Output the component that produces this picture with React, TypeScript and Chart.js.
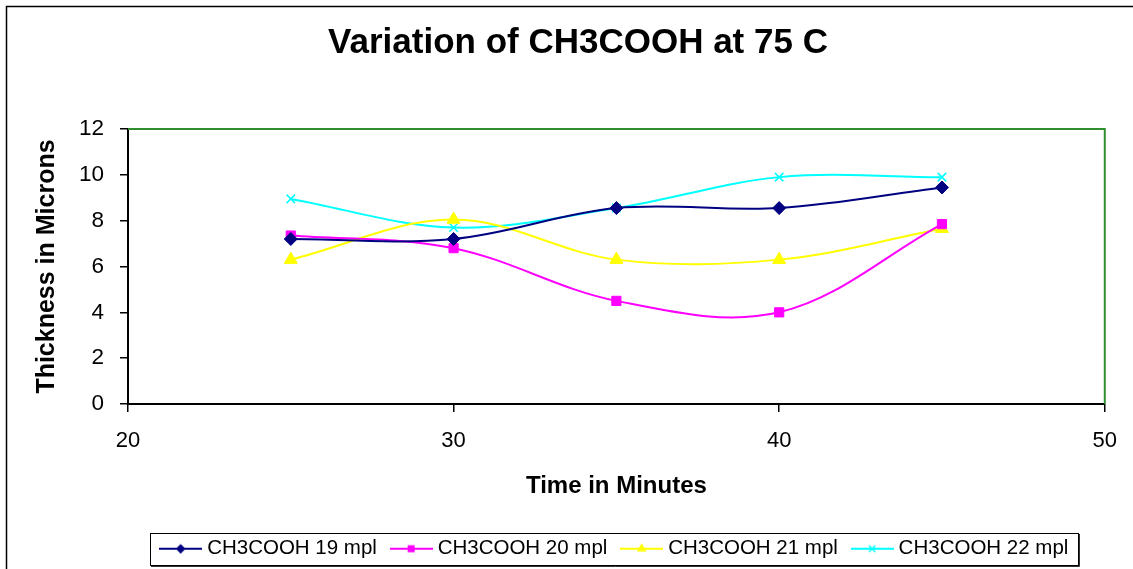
import React, { useEffect, useRef } from "react";
import { Chart, registerables } from "chart.js";

Chart.register(...registerables);

// ---------- data ----------
const timeMinutes = [25, 30, 35, 40, 45];
const series19 = [7.2, 7.2, 8.55, 8.55, 9.45];
const series20 = [7.35, 6.8, 4.5, 4.0, 7.85];
const series21 = [6.3, 8.05, 6.3, 6.3, 7.65];
const series22 = [8.95, 7.7, 8.55, 9.9, 9.9];

const seriesNames = ["CH3COOH 19 mpl", "CH3COOH 20 mpl", "CH3COOH 21 mpl", "CH3COOH 22 mpl"];
const seriesColors = ["#000080", "#FF00FF", "#FFFF00", "#00FFFF"];
const seriesMarkers = ["rectRot", "rect", "triangle", "crossRot"];
const markerRadii = [6.5, 6.5, 7.5, 6];

const xMin = 20;
const xMax = 50;
const xStep = 10;
const yMin = 0;
const yMax = 12;
const yStep = 2;

const chartTitle = "Variation of CH3COOH at 75 C";
const xAxisTitle = "Time in Minutes";
const yAxisTitle = "Thickness in Microns";

const FONT = "'Liberation Sans', Arial, Helvetica, sans-serif";

function makeLegendImage(color: string, style: string, r: number): HTMLCanvasElement {
  const c = document.createElement("canvas");
  c.width = 43;
  c.height = 14;
  const g = c.getContext("2d")!;
  g.strokeStyle = color;
  g.lineWidth = 2;
  g.beginPath();
  g.moveTo(0, 7);
  g.lineTo(43, 7);
  g.stroke();
  const cx = 21.5;
  const cy = 7;
  g.fillStyle = color;
  g.beginPath();
  if (style === "rectRot") {
    g.moveTo(cx, cy - r);
    g.lineTo(cx + r, cy);
    g.lineTo(cx, cy + r);
    g.lineTo(cx - r, cy);
    g.closePath();
    g.fill();
  } else if (style === "rect") {
    const s = r * 0.72;
    g.fillRect(cx - s, cy - s, 2 * s, 2 * s);
  } else if (style === "triangle") {
    g.moveTo(cx, cy - r);
    g.lineTo(cx + r * 0.866, cy + r / 2);
    g.lineTo(cx - r * 0.866, cy + r / 2);
    g.closePath();
    g.fill();
  } else {
    const d = r * 0.707;
    g.lineWidth = 1.5;
    g.moveTo(cx - d, cy - d);
    g.lineTo(cx + d, cy + d);
    g.moveTo(cx + d, cy - d);
    g.lineTo(cx - d, cy + d);
    g.stroke();
  }
  return c;
}

const decorPlugin = {
  id: "decor",
  beforeDatasetsDraw(chart: any) {
    const { ctx, chartArea } = chart;
    ctx.save();
    ctx.strokeStyle = "#2f8f2f";
    ctx.lineWidth = 2;
    ctx.beginPath();
    ctx.moveTo(chartArea.left, chartArea.top);
    ctx.lineTo(chartArea.right, chartArea.top);
    ctx.lineTo(chartArea.right, chartArea.bottom);
    ctx.stroke();
    ctx.restore();
  },
  afterDraw(chart: any) {
    const { ctx } = chart;
    ctx.save();
    // outer chart border
    ctx.strokeStyle = "#000";
    ctx.lineWidth = 1.5;
    ctx.beginPath();
    ctx.moveTo(6.5, chart.height);
    ctx.lineTo(6.5, 6.5);
    ctx.lineTo(chart.width, 6.5);
    ctx.stroke();
    // title
    ctx.fillStyle = "#000";
    ctx.font = `bold 35px ${FONT}`;
    ctx.textAlign = "center";
    ctx.textBaseline = "middle";
    ctx.fillText(chartTitle, 578, 43);
    // legend frame
    const lg = chart.legend;
    if (lg && lg.legendHitBoxes && lg.legendHitBoxes.length) {
      const hb = lg.legendHitBoxes;
      const first = hb[0];
      const last = hb[hb.length - 1];
      const left = first.left - 14;
      const right = last.left + last.width + 10;
      const top = first.top - 5.5;
      const bottom = first.top + 26.5;
      ctx.strokeStyle = "#000";
      ctx.lineWidth = 1;
      ctx.strokeRect(Math.round(left) + 0.5, Math.round(top) + 0.5, Math.round(right - left), Math.round(bottom - top));
      ctx.strokeStyle = "#333";
      ctx.beginPath();
      ctx.moveTo(Math.round(left) + 1, Math.round(bottom) + 1.5);
      ctx.lineTo(Math.round(right) + 1.5, Math.round(bottom) + 1.5);
      ctx.lineTo(Math.round(right) + 1.5, Math.round(top) + 1);
      ctx.stroke();
    }
    ctx.restore();
  },
};

export default function App() {
  const canvasRef = useRef<HTMLCanvasElement | null>(null);

  useEffect(() => {
    const canvas = canvasRef.current;
    if (!canvas) return;
    const allSeries = [series19, series20, series21, series22];
    const legendImages = seriesColors.map((c, i) => makeLegendImage(c, seriesMarkers[i], markerRadii[i] * 0.75));

    const datasets = allSeries.map((vals, i) => ({
      label: seriesNames[i],
      data: vals.map((v, j) => ({ x: timeMinutes[j], y: v })),
      borderColor: seriesColors[i],
      backgroundColor: seriesColors[i],
      borderWidth: 2,
      tension: 0.35,
      pointStyle: seriesMarkers[i] as any,
      pointRadius: markerRadii[i],
      pointBackgroundColor: seriesColors[i],
      pointBorderColor: seriesColors[i],
      pointBorderWidth: seriesMarkers[i] === "crossRot" ? 1.5 : 1,
      fill: false,
    }));

    const chart = new Chart(canvas, {
      type: "line",
      data: { datasets },
      plugins: [decorPlugin],
      options: {
        responsive: false,
        animation: false,
        devicePixelRatio: 1,
        layout: { padding: { top: 129, left: 0, right: 25, bottom: 0 } },
        plugins: {
          title: { display: false },
          tooltip: { enabled: false },
          legend: {
            display: true,
            position: "bottom",
            fullSize: false,
            labels: {
              usePointStyle: true,
              pointStyleWidth: 32.5,
              boxHeight: 14,
              padding: 18,
              color: "#000",
              font: { size: 20.5, family: FONT },
              generateLabels: (ch: any) =>
                ch.data.datasets.map((ds: any, i: number) => ({
                  text: ds.label,
                  fillStyle: ds.borderColor,
                  strokeStyle: ds.borderColor,
                  fontColor: "#000",
                  lineWidth: 0,
                  pointStyle: legendImages[i],
                  hidden: false,
                  datasetIndex: i,
                })),
            },
          },
        },
        scales: {
          x: {
            type: "linear",
            min: xMin,
            max: xMax,
            ticks: {
              stepSize: xStep,
              color: "#000",
              padding: 16,
              font: { size: 22, family: FONT },
            },
            grid: { drawOnChartArea: false, drawTicks: true, tickLength: 8, color: "#000", lineWidth: 1.5 },
            border: { display: true, color: "#000", width: 2 },
            title: {
              display: true,
              text: xAxisTitle,
              color: "#000",
              font: { size: 24, weight: "bold", family: FONT },
              padding: { top: 0, bottom: 20 },
            },
            afterFit: (s: any) => {
              s.height = 116.5;
            },
          },
          y: {
            type: "linear",
            min: yMin,
            max: yMax,
            ticks: {
              stepSize: yStep,
              color: "#000",
              padding: 16,
              font: { size: 22.5, family: FONT },
            },
            grid: { drawOnChartArea: false, drawTicks: true, tickLength: 8, color: "#000", lineWidth: 1.5 },
            border: { display: true, color: "#000", width: 2 },
            title: {
              display: true,
              text: yAxisTitle,
              color: "#000",
              font: { size: 25, weight: "bold", family: FONT },
              padding: { top: 32, bottom: 0 },
            },
            afterFit: (s: any) => {
              s.width = 128;
            },
          },
        },
      } as any,
    });
    return () => chart.destroy();
  }, []);

  return (
    <div style={{ position: "absolute", left: 0, top: 0, width: 1133, height: 569, background: "#fff" }}>
      <canvas ref={canvasRef} width={1133} height={569} style={{ display: "block", width: 1133, height: 569 }} />
    </div>
  );
}
